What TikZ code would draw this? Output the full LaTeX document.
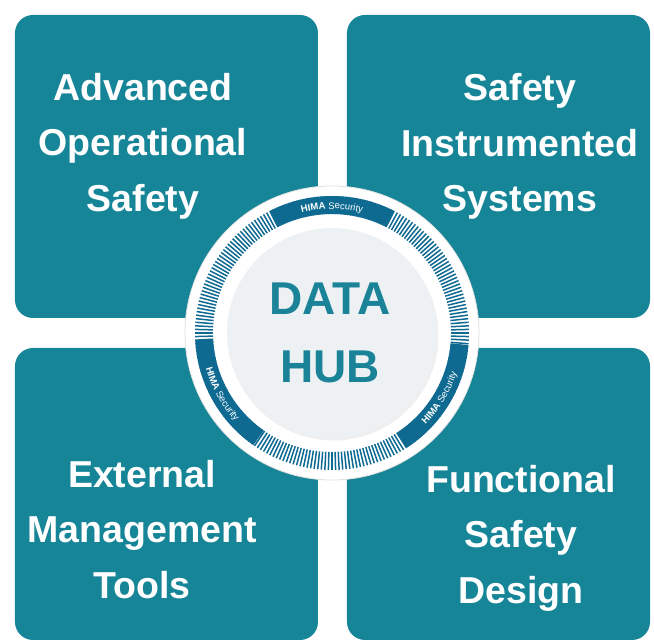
\documentclass[tikz,border=0pt]{standalone}
\usepackage{fontspec}
\setmainfont{Liberation Sans}
\usepackage{tikz}
\usetikzlibrary{positioning,decorations.text,shadows}
\definecolor{hubteal}{HTML}{178598}
\definecolor{ringblue}{HTML}{0F6A92}
\definecolor{hubgrey}{HTML}{EDF1F4}
\definecolor{titleteal}{HTML}{1A8398}
\newcommand{\ringfont}{\fontsize{9.5}{11}\selectfont}
\tikzset{
    every picture/.style={line cap=round,line join=round},
    areabox/.style={fill=hubteal,rounded corners=18pt,inner sep=0pt,
      minimum width=303pt},
    arealabel/.style={text=white,inner sep=0pt,align=center,
      font=\fontsize{37.5}{55.5}\selectfont\bfseries},
    hubtext/.style={text=titleteal,inner sep=0pt,align=center,
      font=\fontsize{46}{68}\selectfont\bfseries},
    ringband/.style={draw=ringblue,line width=18pt,line cap=butt},
    ringtick/.style={draw=ringblue,line width=1.5pt,line cap=butt},
    ringlabel/.style={decorate,decoration={text along path,text align=center,
      text color=white,text={|\ringfont\bfseries|HIMA|\ringfont| Security}}}
}

\begin{document}
\begin{tikzpicture}[x=1pt,y=1pt]
  \useasboundingbox (-332,-311) rectangle (322,333);

  % four topic tiles
  \node[areabox,minimum height=303pt] (safetyops) at (-165.5,166.5) {};
  \node[areabox,minimum height=303pt] (sisbox) at (166.5,166.5) {};
  \node[areabox,minimum height=292pt] (toolsbox) at (-165.5,-161) {};
  \node[areabox,minimum height=292pt] (fsdbox) at (166.5,-161) {};

  \node[arealabel] (opslabel) at (-189,187) {Advanced\\Operational\\Safety};
  \node[arealabel] (sislabel) at (188,186.5) {Safety\\Instrumented\\Systems};
  \node[arealabel] (toolslabel) at (-190,-196.5) {External\\Management\\Tools};
  \node[arealabel] (fsdlabel) at (189,-205) {Functional\\Safety\\Design};

  % hub: white disc, tick ring, grey core
  \node[circle,fill=white,draw=black!12,line width=0.8pt,minimum size=294pt,
    inner sep=0pt] (hubdisk) at (0,0) {};
  \foreach \a in {0,1.5,...,358.5}
    \draw[ringtick] (\a:119) -- (\a:137);
  \draw[ringband] (117:128) arc[start angle=117,end angle=63,radius=128];
  \draw[ringband] (183:128) arc[start angle=183,end angle=235,radius=128];
  \draw[ringband] (-57:128) arc[start angle=-57,end angle=-5,radius=128];

  \path[ringlabel] (117:124) arc[start angle=117,end angle=63,radius=124];
  \path[ringlabel] (181:131) arc[start angle=181,end angle=237,radius=131];
  \path[ringlabel] (-59:131) arc[start angle=-59,end angle=-3,radius=131];

  \node[circle,fill=hubgrey,minimum size=210pt,inner sep=0pt,
    drop shadow={opacity=0.12,shadow xshift=1.5pt,shadow yshift=-2.5pt}]
    (hubcore) at (0,0) {};
  \node[hubtext] (hubtitle) at (-2,0) {DATA\\HUB};
\end{tikzpicture}
\end{document}
